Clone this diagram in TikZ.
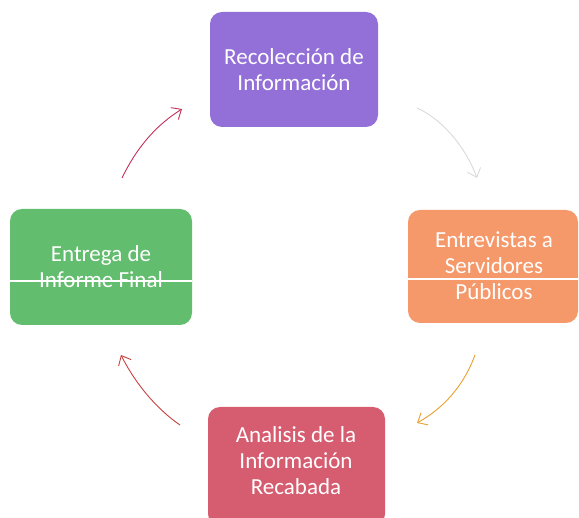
\documentclass[tikz,border=0pt]{standalone}
\usepackage{fontspec}
\setmainfont{Carlito}
\usetikzlibrary{arrows.meta}
\definecolor{cpurple}{HTML}{9370D8}
\definecolor{cgreen}{HTML}{62BD6E}
\definecolor{corange}{HTML}{F5986A}
\definecolor{cred}{HTML}{D65C70}
\definecolor{acrimson}{HTML}{C4305A}
\definecolor{agrey}{HTML}{DADADA}
\definecolor{aorange}{HTML}{E8A030}
\definecolor{ared}{HTML}{C84040}
\tikzset{
  stage/.style={rounded corners=12pt, text=white, align=center,
    font=\fontsize{23}{26}\selectfont, inner sep=0pt},
  flow/.style={line width=0.9pt, -{Straight Barb[length=8pt,width=14pt]}},
  scan/.style={white, line width=1.2pt}
}
\begin{document}
\begin{tikzpicture}[x=1pt,y=-1pt]
\useasboundingbox (0,0) rectangle (579,518);
% boxes
\fill[cpurple, rounded corners=12pt] (210,12) rectangle (378,127);
\node[stage] (rec) at (294,70) {Recolección de\\Información};
\fill[cgreen, rounded corners=12pt] (10,209) rectangle (192,325);
\node[stage] (ent) at (101,267) {Entrega de\\Informe Final};
\draw[scan] (10,281) -- (192,281);
\fill[corange, rounded corners=12pt] (408,210) rectangle (578,323);
\node[stage] (srv) at (494,266) {Entrevistas a\\Servidores\\Públicos};
\draw[scan] (408,279) -- (578,279);
\fill[cred, rounded corners=12pt] (208,407) rectangle (385,526);
\node[stage] (ana) at (296,461) {Analisis de la\\Información\\Recabada};
% arrow end points
\coordinate (a1s) at (122,178); \coordinate (a1e) at (182,109);
\coordinate (a2s) at (417,108); \coordinate (a2e) at (477,178);
\coordinate (a3s) at (475,355); \coordinate (a3e) at (417,423);
\coordinate (a4s) at (180,425); \coordinate (a4e) at (121,355);
\draw[flow, acrimson] (a1s) .. controls (138,145) and (158,124) .. (a1e);
\draw[flow, agrey] (a2s) .. controls (440,118) and (465,145) .. (a2e);
\draw[flow, aorange] (a3s) .. controls (462,390) and (440,410) .. (a3e);
\draw[flow, ared] (a4s) .. controls (158,410) and (136,385) .. (a4e);
\end{tikzpicture}
\end{document}
